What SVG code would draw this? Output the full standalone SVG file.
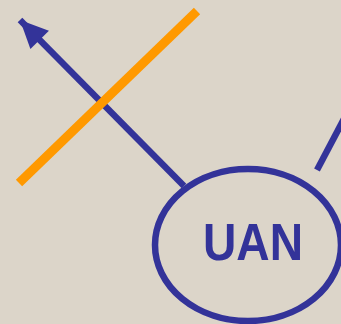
<svg xmlns="http://www.w3.org/2000/svg" width="341" height="324" viewBox="0 0 341 324">
<style>
.blue{stroke:#333399;fill:none;stroke-width:6.5}
.lbl{font-family:"Liberation Sans",Arial,sans-serif;font-size:51px;font-weight:bold;fill:#333399;text-anchor:middle}
</style>
<defs>
<marker id="ah" markerUnits="userSpaceOnUse" markerWidth="32" markerHeight="32" refX="0" refY="0" viewBox="-30 -15 32 30" orient="auto">
<path d="M0,0 L-28,-13 L-28,13 Z" fill="#333399"/>
</marker>
</defs>
<rect width="341" height="324" fill="#dcd5c9"/>
<g id="connectors">
<line class="blue" x1="184" y1="186" x2="20" y2="20" marker-end="url(#ah)"/>
<line x1="197" y1="11" x2="19" y2="183" stroke="#ff9900" stroke-width="9"/>
<line class="blue" x1="317" y1="170" x2="345" y2="117"/>
</g>
<g id="uan">
<ellipse class="blue" cx="248" cy="245" rx="93" ry="76" stroke-width="5"/>
<text class="lbl" x="253" y="260" textLength="100" lengthAdjust="spacingAndGlyphs">UAN</text>
</g>
</svg>
